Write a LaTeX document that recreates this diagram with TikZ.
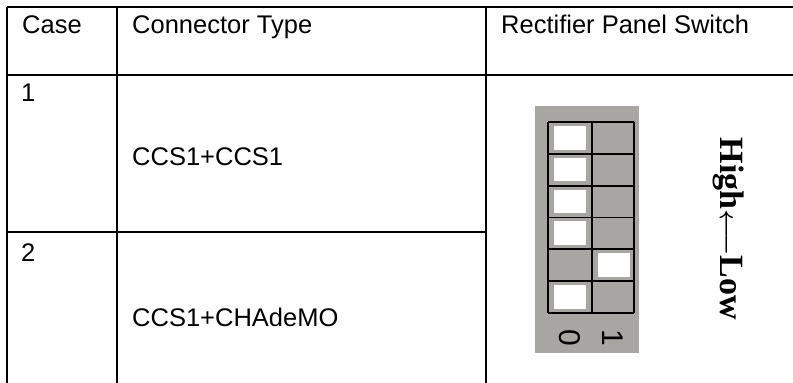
\documentclass[tikz,border=0pt]{standalone}
\usepackage{fontspec}
\setmainfont{Liberation Sans}
\newfontfamily\tnr{Liberation Serif}
\definecolor{panelgray}{RGB}{168,166,163}

\tikzstyle{rule}=[line width=2pt]
\tikzstyle{gridline}=[line width=1.8pt,black]
\tikzstyle{txt}=[inner sep=0pt,anchor=base west,font=\fontsize{25.5}{30}\selectfont]
\tikzstyle{slider}=[fill=white,draw=none]
\tikzstyle{digit}=[rotate=-90,inner sep=0pt,font=\fontsize{30}{34}\selectfont]

\begin{document}
\begin{tikzpicture}[x=1pt,y=-1pt]
  \useasboundingbox (0,0) rectangle (793,383);

  % table rules
  \draw[rule] (7,7) -- (793,7);
  \draw[rule] (7,75) -- (793,75);
  \draw[rule] (7,232) -- (486,232);
  \draw[rule] (7,7) -- (7,383);
  \draw[rule] (117,7) -- (117,383);
  \draw[rule] (486,7) -- (486,383);

  \node[txt] (hcase) at (22,33) {Case};
  \node[txt] (htype) at (132,33) {Connector Type};
  \node[txt] (hswitch) at (501,33) {Rectifier Panel Switch};

  \node[txt] (case1) at (21,101) {1};
  \node[txt] (type1) at (132,165) {CCS1+CCS1};
  \node[txt] (case2) at (21,261) {2};
  \node[txt] (type2) at (132,326) {CCS1+CHAdeMO};

  % switch panel
  \fill[panelgray] (535,106) rectangle (639,353);
  \foreach \r/\c in {0/0,1/0,2/0,3/0,4/1,5/0}
    \fill[slider] (554+\c*44,126+\r*31.83) rectangle ++(32,23.5);
  \foreach \r in {0,...,6}
    \draw[gridline] (548,122+\r*31.83) -- (634,122+\r*31.83);
  \foreach \x in {548,592,634}
    \draw[gridline] (\x,122) -- (\x,313);

  \node[digit] (off) at (570,338) {0};
  \node[digit] (on) at (613,338) {1};

  \node[rotate=-90,anchor=base,inner sep=0pt,font=\tnr\bfseries\fontsize{34}{38}\selectfont]
    (order) at (720,229) {High{\boldmath$\longleftarrow$}Low};
\end{tikzpicture}
\end{document}
